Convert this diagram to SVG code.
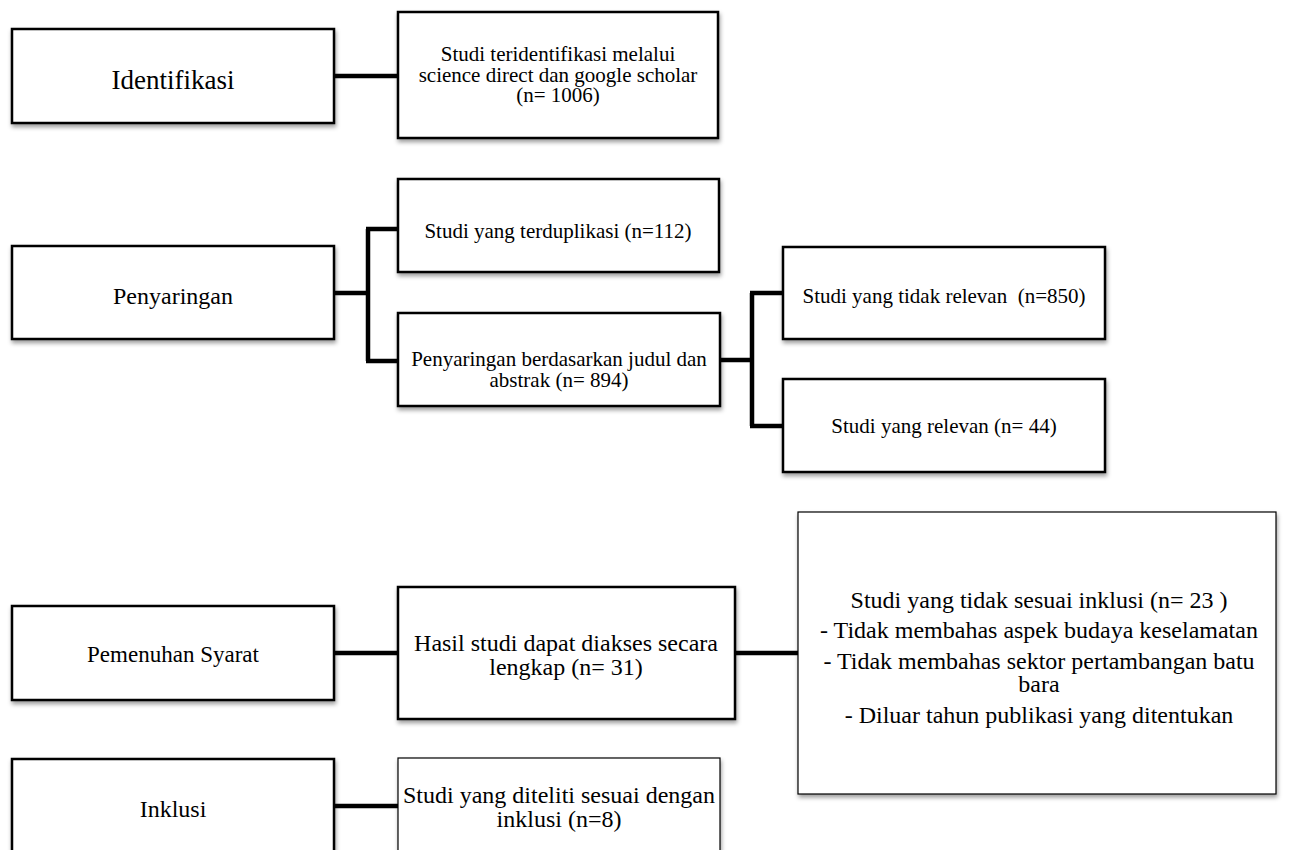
<svg xmlns="http://www.w3.org/2000/svg" width="1291" height="850" viewBox="0 0 1291 850">
<style>
.box{fill:#fff;stroke:#000;stroke-width:2.5;filter:url(#sh)}
.thin{stroke-width:1.2}
.t{font-family:"Liberation Serif","Times New Roman",serif;fill:#000;text-anchor:middle}
.s21{font-size:21px}
.s24{font-size:24px}
.conn{fill:none;stroke:#000;stroke-width:4.5;stroke-linejoin:miter;stroke-linecap:butt}
</style>
<defs>
<filter id="sh" x="-10%" y="-10%" width="130%" height="140%">
<feDropShadow dx="1" dy="3" stdDeviation="2" flood-color="#000" flood-opacity="0.38"/>
</filter>
</defs>
<rect width="1291" height="850" fill="#fff"/>
<g id="connectors">
<path class="conn" d="M334 76H398"/>
<path class="conn" d="M334 293H368M368 229V361M366 229H398M366 361H398"/>
<path class="conn" d="M720 360H752M752 293V426M750 293H783M750 426H783"/>
<path class="conn" d="M334 653H398"/>
<path class="conn" d="M735 653H798"/>
<path class="conn" d="M334 806H398"/>
</g>
<g id="identifikasi">
<rect class="box" x="12" y="29" width="322" height="94"/>
<text class="t" x="173" y="89" font-size="27">Identifikasi</text>
</g>
<g id="studi-teridentifikasi">
<rect class="box" x="398" y="12" width="320" height="126"/>
<text class="t s21" x="558" y="61">Studi teridentifikasi melalui</text>
<text class="t s21" x="558" y="82">science direct dan google scholar</text>
<text class="t s21" x="558" y="102">(n= 1006)</text>
</g>
<g id="penyaringan">
<rect class="box" x="12" y="246" width="322" height="93"/>
<text class="t s24" x="173" y="304">Penyaringan</text>
</g>
<g id="terduplikasi">
<rect class="box" x="398" y="179" width="321" height="93"/>
<text class="t s21" x="558" y="238">Studi yang terduplikasi (n=112)</text>
</g>
<g id="penyaringan-judul">
<rect class="box" x="398" y="313" width="322" height="93"/>
<text class="t s21" x="559" y="366">Penyaringan berdasarkan judul dan</text>
<text class="t s21" x="559" y="387">abstrak (n= 894)</text>
</g>
<g id="tidak-relevan">
<rect class="box" x="783" y="247" width="322" height="92"/>
<text class="t s21" x="944" y="303" xml:space="preserve">Studi yang tidak relevan  (n=850)</text>
</g>
<g id="relevan">
<rect class="box" x="783" y="379" width="322" height="93"/>
<text class="t s21" x="944" y="433">Studi yang relevan (n= 44)</text>
</g>
<g id="pemenuhan-syarat">
<rect class="box" x="12" y="606" width="322" height="94"/>
<text class="t" x="173" y="662" font-size="23">Pemenuhan Syarat</text>
</g>
<g id="hasil-studi">
<rect class="box" x="398" y="587" width="337" height="132"/>
<text class="t s24" x="566" y="651">Hasil studi dapat diakses secara</text>
<text class="t s24" x="566" y="675">lengkap (n= 31)</text>
</g>
<g id="tidak-sesuai">
<rect class="box thin" x="798" y="512" width="478" height="282"/>
<text class="t s24" x="1039" y="608">Studi yang tidak sesuai inklusi (n= 23 )</text>
<text class="t s24" x="1039" y="638">- Tidak membahas aspek budaya keselamatan</text>
<text class="t s24" x="1039" y="669">- Tidak membahas sektor pertambangan batu</text>
<text class="t s24" x="1039" y="692">bara</text>
<text class="t s24" x="1039" y="723">- Diluar tahun publikasi yang ditentukan</text>
</g>
<g id="inklusi">
<rect class="box" x="12" y="759" width="322" height="120"/>
<text class="t s24" x="173" y="817">Inklusi</text>
</g>
<g id="studi-diteliti">
<rect class="box thin" x="398" y="758" width="322" height="120"/>
<text class="t s24" x="559" y="803">Studi yang diteliti sesuai dengan</text>
<text class="t s24" x="559" y="827">inklusi (n=8)</text>
</g>
</svg>
